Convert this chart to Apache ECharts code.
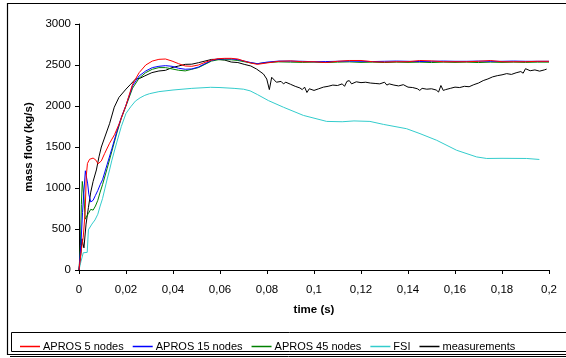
<!DOCTYPE html>
<html>
<head>
<meta charset="utf-8">
<script src="https://cdn.jsdelivr.net/npm/echarts@6/dist/echarts.min.js"></script>
<style>html,body{margin:0;padding:0;background:#fff;}#c{width:566px;height:358px;}</style>
</head>
<body>
<div id="c"></div>
<script>
// ---- data ----
var seriesNames = ['APROS 5 nodes', 'APROS 15 nodes', 'APROS 45 nodes', 'FSI', 'measurements'];
var xTicks = ['0', '0,02', '0,04', '0,06', '0,08', '0,1', '0,12', '0,14', '0,16', '0,18', '0,2'];
var yTicks = [0, 500, 1000, 1500, 2000, 2500, 3000];

var apros5T = [0, 0.001, 0.0018, 0.0026, 0.0031, 0.0036, 0.0045, 0.006, 0.0072, 0.0081, 0.0095, 0.0109, 0.013, 0.0151, 0.0172, 0.02, 0.0228, 0.0256, 0.0284, 0.0312, 0.034, 0.0368, 0.0396, 0.0424, 0.0452, 0.048, 0.0508, 0.0536, 0.0564, 0.0592, 0.062, 0.0648, 0.0676, 0.0703, 0.0731, 0.0759, 0.08, 0.085, 0.09, 0.095, 0.1, 0.105, 0.11, 0.115, 0.12, 0.125, 0.13, 0.135, 0.14, 0.145, 0.15, 0.155, 0.16, 0.165, 0.17, 0.175, 0.18, 0.185, 0.19, 0.195, 0.2];
var apros5V = [0, 250, 400, 700, 1150, 1300, 1350, 1365, 1340, 1295, 1330, 1420, 1545, 1650, 1790, 2010, 2266, 2407, 2500, 2548, 2569, 2573, 2548, 2516, 2488, 2484, 2500, 2532, 2560, 2577, 2581, 2581, 2573, 2548, 2524, 2508, 2525, 2545, 2550, 2540, 2540, 2530, 2545, 2555, 2555, 2540, 2535, 2540, 2540, 2555, 2550, 2540, 2540, 2540, 2545, 2555, 2540, 2540, 2540, 2545, 2545];

var apros15T = [0, 0.0008, 0.0015, 0.0022, 0.0027, 0.0032, 0.0037, 0.0042, 0.005, 0.006, 0.007, 0.008, 0.009, 0.01, 0.012, 0.014, 0.016, 0.018, 0.02, 0.0228, 0.0256, 0.0284, 0.0312, 0.034, 0.0368, 0.0396, 0.0424, 0.0452, 0.048, 0.0508, 0.0536, 0.0564, 0.0592, 0.062, 0.0648, 0.0676, 0.0703, 0.0731, 0.0759, 0.08, 0.085, 0.09, 0.095, 0.1, 0.105, 0.11, 0.115, 0.12, 0.125, 0.13, 0.135, 0.14, 0.145, 0.15, 0.155, 0.16, 0.165, 0.17, 0.175, 0.18, 0.185, 0.19, 0.195, 0.2];
var apros15V = [0, 300, 700, 1000, 1210, 1215, 1050, 920, 830, 850, 910, 970, 1040, 1100, 1290, 1480, 1680, 1860, 2010, 2246, 2367, 2427, 2468, 2484, 2492, 2484, 2460, 2448, 2452, 2475, 2516, 2556, 2572, 2575, 2575, 2565, 2548, 2530, 2516, 2535, 2548, 2548, 2545, 2540, 2542, 2545, 2548, 2545, 2542, 2545, 2548, 2545, 2542, 2545, 2548, 2545, 2545, 2548, 2545, 2545, 2548, 2545, 2545, 2545];

var apros45T = [0, 0.0006, 0.001, 0.0014, 0.0018, 0.0021, 0.0026, 0.0032, 0.004, 0.005, 0.006, 0.007, 0.008, 0.009, 0.01, 0.012, 0.014, 0.016, 0.018, 0.02, 0.0228, 0.0256, 0.0284, 0.0312, 0.034, 0.0368, 0.0396, 0.0424, 0.0452, 0.048, 0.0508, 0.0536, 0.0564, 0.0592, 0.062, 0.0648, 0.0676, 0.0703, 0.0731, 0.0759, 0.08, 0.085, 0.09, 0.095, 0.1, 0.105, 0.11, 0.115, 0.12, 0.125, 0.13, 0.135, 0.14, 0.145, 0.15, 0.155, 0.16, 0.165, 0.17, 0.175, 0.18, 0.185, 0.19, 0.195, 0.2];
var apros45V = [0, 300, 800, 1080, 1100, 900, 620, 600, 690, 740, 730, 780, 850, 950, 1040, 1240, 1450, 1660, 1850, 2000, 2218, 2339, 2407, 2448, 2468, 2468, 2452, 2436, 2428, 2448, 2468, 2508, 2548, 2564, 2564, 2564, 2555, 2540, 2525, 2516, 2530, 2538, 2535, 2532, 2535, 2530, 2535, 2538, 2532, 2535, 2530, 2535, 2532, 2535, 2530, 2535, 2532, 2535, 2530, 2535, 2532, 2535, 2532, 2535, 2535];

var fsiT = [0, 0.0008, 0.0018, 0.0035, 0.004, 0.0055, 0.0068, 0.008, 0.009, 0.01, 0.011, 0.012, 0.013, 0.014, 0.016, 0.018, 0.02, 0.022, 0.024, 0.026, 0.028, 0.03, 0.034, 0.04, 0.048, 0.056, 0.06, 0.066, 0.07, 0.0728, 0.0759, 0.0806, 0.087, 0.0955, 0.1054, 0.112, 0.117, 0.1238, 0.1295, 0.1394, 0.1451, 0.1522, 0.1607, 0.1692, 0.1735, 0.18, 0.1905, 0.1959];
var fsiV = [0, 100, 210, 215, 490, 560, 610, 680, 780, 870, 990, 1110, 1220, 1340, 1550, 1750, 1910, 1990, 2060, 2100, 2130, 2150, 2175, 2195, 2215, 2228, 2225, 2215, 2205, 2185, 2140, 2066, 1985, 1885, 1812, 1808, 1818, 1812, 1776, 1723, 1663, 1582, 1460, 1379, 1360, 1362, 1360, 1348];

var measT = [0, 0.0008, 0.0013, 0.0017, 0.0021, 0.003, 0.004, 0.005, 0.006, 0.0074, 0.0085, 0.0095, 0.011, 0.013, 0.015, 0.017, 0.02, 0.022, 0.024, 0.026, 0.028, 0.031, 0.034, 0.0368, 0.0396, 0.0424, 0.0452, 0.048, 0.0508, 0.0536, 0.0564, 0.0592, 0.062, 0.0648, 0.0676, 0.0703, 0.0731, 0.0756, 0.0785, 0.0799, 0.081, 0.082, 0.084, 0.086, 0.087, 0.088, 0.09, 0.092, 0.094, 0.095, 0.096, 0.097, 0.098, 0.1, 0.102, 0.104, 0.106, 0.108, 0.11, 0.112, 0.113, 0.114, 0.115, 0.116, 0.118, 0.12, 0.122, 0.124, 0.126, 0.128, 0.13, 0.131, 0.132, 0.134, 0.136, 0.138, 0.14, 0.142, 0.144, 0.145, 0.146, 0.148, 0.15, 0.152, 0.153, 0.154, 0.155, 0.156, 0.158, 0.16, 0.162, 0.164, 0.166, 0.168, 0.17, 0.172, 0.174, 0.176, 0.178, 0.18, 0.182, 0.184, 0.186, 0.188, 0.189, 0.19, 0.192, 0.194, 0.196, 0.198, 0.199];
var measV = [0, 200, 380, 320, 270, 560, 760, 950, 1080, 1220, 1380, 1500, 1622, 1784, 1985, 2105, 2206, 2266, 2327, 2339, 2367, 2407, 2427, 2435, 2468, 2488, 2508, 2510, 2528, 2548, 2568, 2570, 2560, 2536, 2530, 2508, 2488, 2450, 2390, 2329, 2200, 2350, 2290, 2300, 2270, 2290, 2265, 2240, 2220, 2200, 2230, 2165, 2210, 2190, 2210, 2230, 2240, 2255, 2250, 2270, 2240, 2300, 2310, 2270, 2295, 2285, 2290, 2280, 2275, 2270, 2290, 2255, 2270, 2255, 2245, 2260, 2230, 2225, 2210, 2190, 2215, 2205, 2210, 2195, 2170, 2250, 2190, 2200, 2215, 2230, 2225, 2240, 2235, 2260, 2280, 2310, 2330, 2355, 2370, 2380, 2395, 2385, 2405, 2420, 2400, 2455, 2430, 2440, 2425, 2440, 2450];

var colors = ['#ff0000', '#0000ff', '#008000', '#33cccc', '#000000'];

function pairs(t, v) { return t.map(function (x, i) { return [x, v[i]]; }); }
var allData = [pairs(apros5T, apros5V), pairs(apros15T, apros15V), pairs(apros45T, apros45V), pairs(fsiT, fsiV), pairs(measT, measV)];
var drawOrder = [4, 3, 2, 1, 0];

var FONT = 'Liberation Sans, Arial, sans-serif';
var chart = echarts.init(document.getElementById('c'), null, { renderer: 'canvas' });
var series = drawOrder.map(function (i) {
  return {
    name: seriesNames[i], type: 'line', data: allData[i], symbol: 'none', smooth: false,
    lineStyle: { color: colors[i], width: 1 }, itemStyle: { color: colors[i] }, animation: false, z: 2
  };
});
chart.setOption({
  animation: false,
  backgroundColor: '#ffffff',
  grid: { left: 79, right: 17, top: 24, bottom: 88 },
  graphic: [
    { type: 'rect', shape: { x: 7.5, y: 3.5, width: 600, height: 351 }, style: { fill: 'none', stroke: '#000', lineWidth: 1.2 }, z: -1 },
    { type: 'line', shape: { x1: 10, y1: 356.5, x2: 600, y2: 356.5 }, style: { stroke: '#000', lineWidth: 1 }, z: -1 },
    { type: 'rect', shape: { x: 11.5, y: 332.5, width: 600, height: 19 }, style: { fill: 'none', stroke: '#000', lineWidth: 1 }, z: -1 }
  ],
  legend: {
    data: seriesNames, left: 15, top: 336, itemWidth: 20, itemHeight: 1.5, itemGap: 9, icon: 'rect',
    textStyle: { fontFamily: FONT, fontSize: 11, color: '#000', padding: [0, 0, 0, -2] }
  },
  xAxis: {
    type: 'value', min: 0, max: 0.2, interval: 0.02,
    name: 'time (s)', nameLocation: 'middle', nameGap: 34,
    nameTextStyle: { fontFamily: FONT, fontSize: 11.5, fontWeight: 'bold', color: '#000' },
    axisLine: { lineStyle: { color: '#000', width: 1 } },
    axisTick: { show: true, length: 4, lineStyle: { color: '#000' } },
    axisLabel: { fontFamily: FONT, fontSize: 11.5, color: '#000', margin: 14,
      formatter: function (v) { var k = Math.round(v / 0.02); return xTicks[k]; } },
    splitLine: { show: false }
  },
  yAxis: {
    type: 'value', min: yTicks[0], max: yTicks[yTicks.length - 1], interval: 500,
    name: 'mass flow (kg/s)', nameLocation: 'middle', nameGap: 44,
    nameTextStyle: { fontFamily: FONT, fontSize: 11.5, fontWeight: 'bold', color: '#000' },
    axisLine: { show: true, lineStyle: { color: '#000', width: 1 } },
    axisTick: { show: true, length: 4, lineStyle: { color: '#000' } },
    axisLabel: { fontFamily: FONT, fontSize: 11.5, color: '#000', margin: 8,
      formatter: function (v) { return String(Math.round(v)); } },
    splitLine: { show: false }
  },
  series: series
});
</script>
</body>
</html>
